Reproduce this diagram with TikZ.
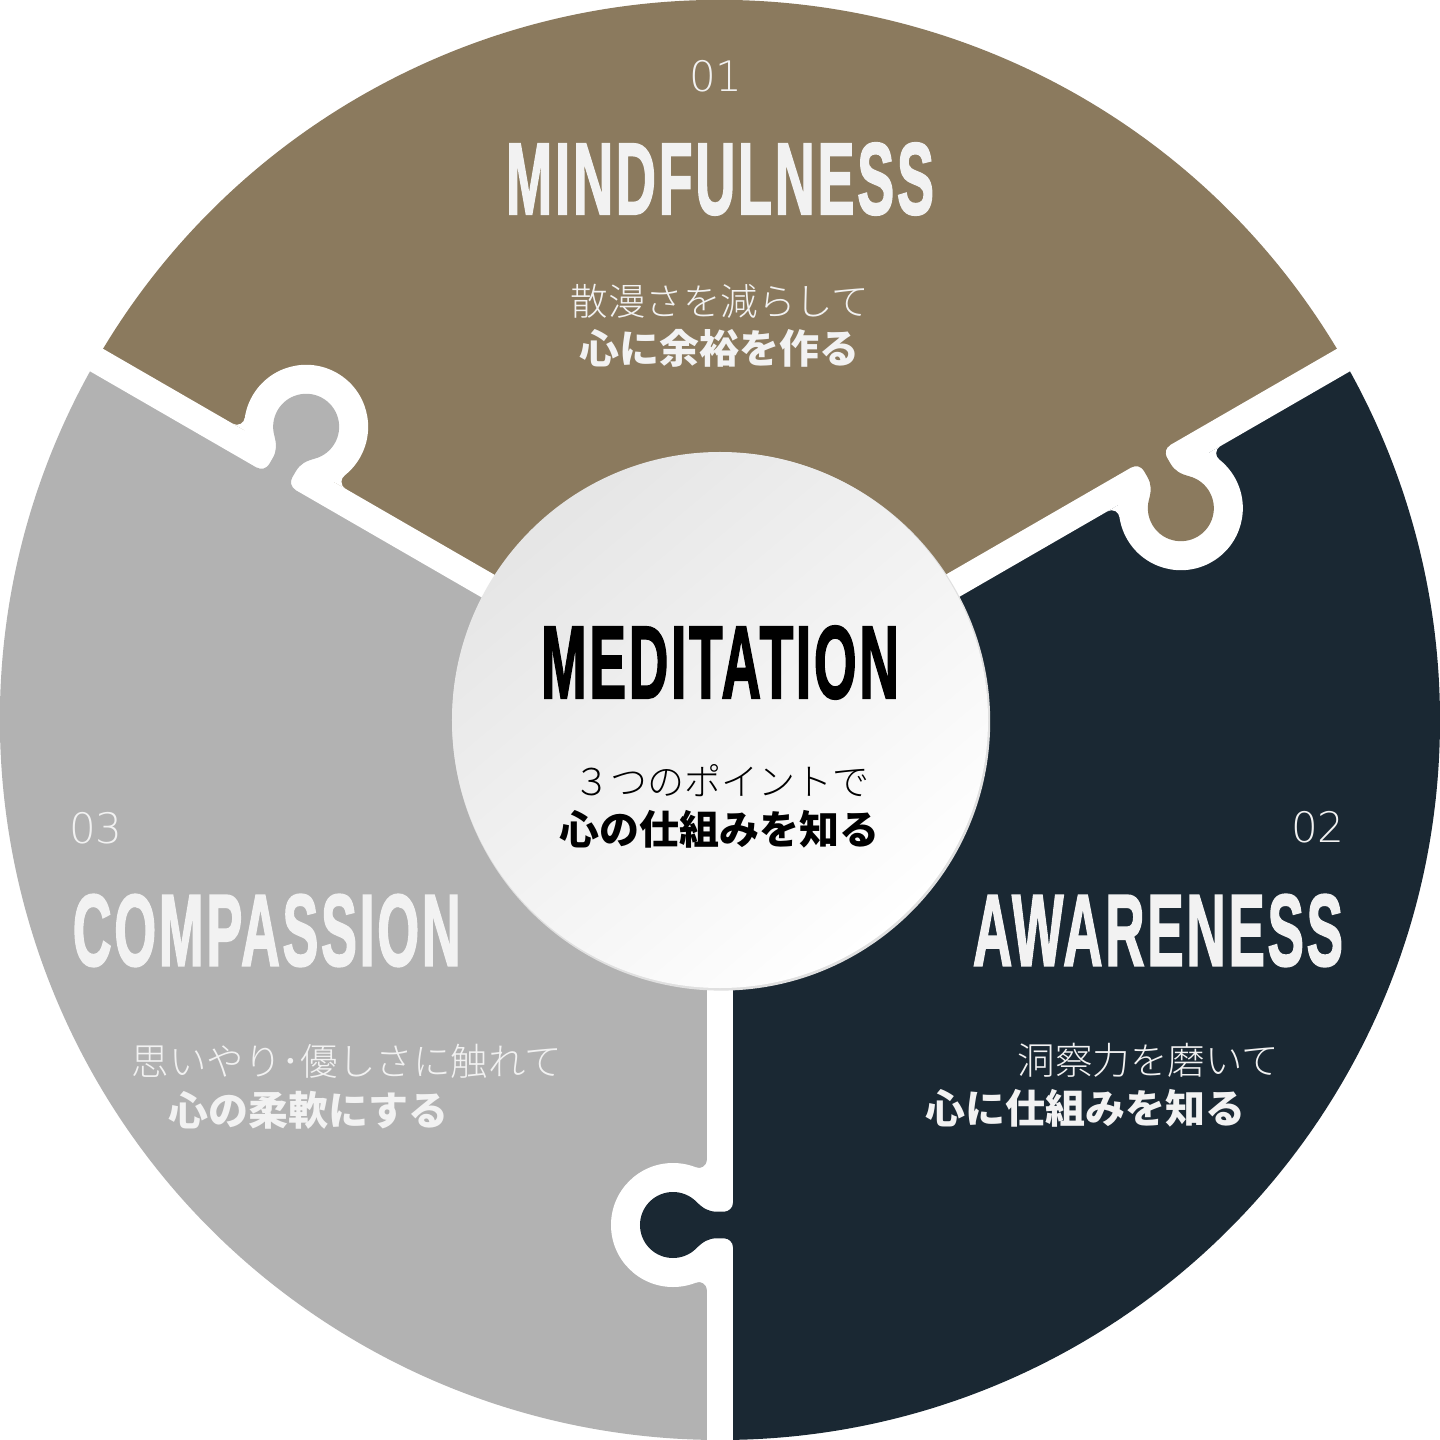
\documentclass[tikz,border=0pt]{standalone}
\usepackage{fontspec}
\usepackage{graphicx}
\newfontfamily\jpfont{Noto Sans CJK JP}
\newfontfamily\jplight{Noto Sans CJK JP Light}
\newfontfamily\titlefont[FakeBold=2.2,LetterSpace=5]{Liberation Sans Bold}
\newfontfamily\numfont{DejaVu Sans ExtraLight}
\definecolor{mbrown}{HTML}{8B7A5E}
\definecolor{mnavy}{HTML}{1A2833}
\definecolor{mgray}{HTML}{B2B2B2}
\definecolor{mtext}{HTML}{F2F2F2}
\tikzset{
  jpreg/.style={font=\jplight\fontsize{37.5}{45}\selectfont, text=mtext, inner sep=0},
  jpbold/.style={font=\jpfont\bfseries\fontsize{40}{48}\selectfont, text=mtext, inner sep=0},
  titletext/.style={font=\titlefont, text=mtext, inner sep=0},
  numtext/.style={font=\numfont\fontsize{42}{50}\selectfont, text=mtext, inner sep=0},
  gapline/.style={white, line width=26},
}
% #1 rotation of the joint line, #2 colour of the protruding knob
\newcommand\puzzlejoint[2]{%
  \begin{scope}[rotate=#1]
    \draw[gapline] (0,0) -- (760,0);
    \fill[white] (505,-47) circle[radius=62];
    \fill[white] (440,-13) arc[start angle=90,end angle=-21.8,radius=8] -- (505,-47) -- (505,-13) -- cycle;
    \fill[white] (570,-13) arc[start angle=90,end angle=201.8,radius=8] -- (505,-47) -- (505,-13) -- cycle;
    \fill[#2] (482.7,20) -- (482.7,13) arc[start angle=90,end angle=0,radius=9]
      -- (491.7,-3) to[out=-90,in=45] (481.67,-23.67)
      arc[start angle=135,end angle=405,radius=33]
      to[out=135,in=-90] (518.3,-3) -- (518.3,4)
      arc[start angle=180,end angle=90,radius=9] -- (527.3,20) -- cycle;
  \end{scope}}
\begin{document}
\begin{tikzpicture}[x=1pt,y=1pt]
  \fill[white] (-720,-720) rectangle (720,720);
  \useasboundingbox (-720,-720) rectangle (720,720);
  % sectors
  \fill[mbrown] (0,0) -- (30:720) arc[start angle=30,end angle=150,radius=720] -- cycle;
  \fill[mgray] (0,0) -- (150:720) arc[start angle=150,end angle=270,radius=720] -- cycle;
  \fill[mnavy] (0,0) -- (270:720) arc[start angle=270,end angle=390,radius=720] -- cycle;
  % puzzle joints
  \puzzlejoint{150}{mgray}
  \puzzlejoint{30}{mbrown}
  \puzzlejoint{270}{mnavy}
  % centre disc
  \fill[black!12] (1.2,-1.6) circle[radius=269];
  \shade[top color=black!10, bottom color=white, shading angle=40] (0,0) circle[radius=268];
  \node[inner sep=0] (hub) at (0,0) {};
  % Mindfulness
  \node[numtext] (n1) at (-4,644) {01};
  \node[titletext] (t1) at (0,541) {\resizebox{428pt}{71pt}{MINDFULNESS}};
  \node[jpreg] (m1) at (0,419) {散漫さを減らして};
  \node[jpbold] (m2) at (0,372) {心に余裕を作る};
  % Meditation
  \node[titletext, text=black] (t0) at (0,57.5) {\resizebox{358pt}{72pt}{MEDITATION}};
  \node[jpreg, text=black, font=\jplight\fontsize{37}{45}\selectfont] (c1) at (2,-61) {３つのポイントで};
  \node[jpbold, text=black] (c2) at (-0.5,-109) {心の仕組みを知る};
  % Awareness
  \node[numtext] (n2) at (598,-107) {02};
  \node[titletext] (t2) at (438,-210.5) {\resizebox{370pt}{71pt}{AWARENESS}};
  \node[jpreg] (a1) at (428.3,-340.8) {洞察力を磨いて};
  \node[jpbold] (a2) at (365.8,-388) {心に仕組みを知る};
  % Compassion
  \node[numtext] (n3) at (-624,-108) {03};
  \node[titletext] (t3) at (-453.2,-210.5) {\resizebox{388pt}{71pt}{COMPASSION}};
  \node[jpreg] (p1) at (-373,-341) {思いやり･優しさに触れて};
  \node[jpbold] (p2) at (-411.5,-390) {心の柔軟にする};
\end{tikzpicture}
\end{document}
